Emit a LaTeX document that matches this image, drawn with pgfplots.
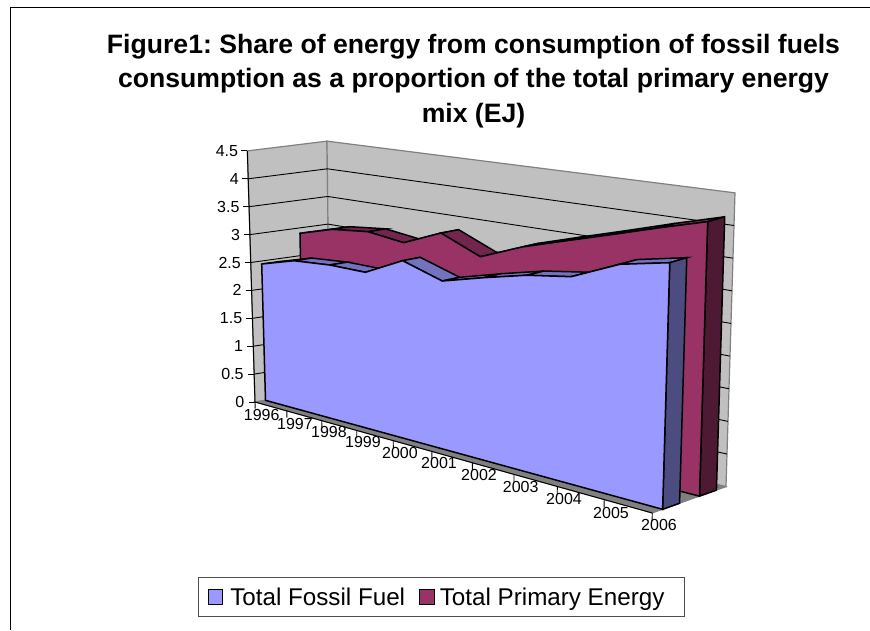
\documentclass[border=0pt]{standalone}
\usepackage{fontspec}
\setmainfont{Liberation Sans}
\usepackage{pgfplots}
\usepackage{pgfplotstable}
\pgfplotsset{compat=1.18}

\definecolor{wall}{HTML}{C0C0C0}
\definecolor{wallEdge}{HTML}{808080}
\definecolor{floorgrey}{HTML}{808080}
\definecolor{fossilFront}{HTML}{9999FF}
\definecolor{fossilTop}{HTML}{7272C0}
\definecolor{fossilSide}{HTML}{4C4C80}
\definecolor{primaryFront}{HTML}{993366}
\definecolor{primaryTop}{HTML}{73264D}
\definecolor{primarySide}{HTML}{4D1933}

% s: position along the year axis (0..1, foreshortened), values in EJ
\pgfplotstableread{
year s     fossil primary
1996 0     2.446  2.902
1997 0.080 2.621  3.075
1998 0.168 2.671  3.142
1999 0.256 2.668  3.058
2000 0.348 2.988  3.332
2001 0.445 2.776  3.046
2002 0.547 2.962  3.323
2003 0.652 3.131  3.535
2004 0.761 3.238  3.743
2005 0.879 3.564  3.967
2006 1     3.718  4.176
}\EnergyData

\pgfplotsset{
  /pgfplots/table/proj/.style={
    x expr={px(\thisrow{s},\thisrow{d},\thisrow{v})},
    y expr={py(\thisrow{s},\thisrow{d},\thisrow{v})}},
  fossil face/.style={fill=fossilFront,draw=black,line width=1.5pt},
  fossil facet/.style={forget plot,fill=fossilTop,draw=black,line width=1.5pt},
  fossil side/.style={forget plot,fill=fossilSide,draw=black,line width=1.5pt},
  primary face/.style={fill=primaryFront,draw=black,line width=1.5pt},
  primary facet/.style={forget plot,fill=primaryTop,draw=black,line width=1.5pt},
  primary side/.style={forget plot,fill=primarySide,draw=black,line width=1.5pt},
}

\newcommand\cell[3]{\pgfplotstablegetelem{#1}{#2}\of\EnergyData\let#3\pgfplotsretval}

% One ribbon of the 3-D area chart: top facets, end cap, then front face.
% #1 value column, #2 front depth, #3 back depth
\newcommand\drawseries[3]{%
  \pgfplotsforeachungrouped \i in {0,...,9}{%
    \pgfmathtruncatemacro\j{\i+1}%
    \cell{\i}{s}\sa \cell{\i}{#1}\va \cell{\j}{s}\sb \cell{\j}{#1}\vb
    \edef\cmd{\noexpand\addplot[#1 facet] table[proj,row sep=\noexpand\\]{s d v\noexpand\\
      \sa\space #2\space \va\noexpand\\ \sb\space #2\space \vb\noexpand\\
      \sb\space #3\space \vb\noexpand\\ \sa\space #3\space \va\noexpand\\} -- cycle;}%
    \cmd
  }%
  \cell{10}{#1}\vb
  \edef\cmd{\noexpand\addplot[#1 side] table[proj,row sep=\noexpand\\]{s d v\noexpand\\
    1 #2 \vb\noexpand\\ 1 #3 \vb\noexpand\\ 1 #3 0\noexpand\\ 1 #2 0\noexpand\\} -- cycle;}%
  \cmd
  \def\rows{}%
  \pgfplotsforeachungrouped \i in {0,...,10}{%
    \cell{\i}{s}\sa \cell{\i}{#1}\va
    \edef\rows{\unexpanded\expandafter{\rows}\sa\space #2\space \va\unexpanded{\\}}%
  }%
  \edef\cmd{\noexpand\addplot[#1 face] table[proj,row sep=\noexpand\\]{s d v\noexpand\\
    \unexpanded\expandafter{\rows}1 #2 0\noexpand\\ 0 #2 0\noexpand\\} -- cycle;}%
  \cmd
}

\begin{document}
\frenchspacing
\begin{tikzpicture}
\begin{axis}[
  scale only axis, width=870pt, height=630pt,
  xmin=0, xmax=870, ymin=0, ymax=630, y dir=reverse,
  hide axis,
  /pgf/declare function={
    px(\a,\b,\c)=(1-\b)*(255+397.3*\a+(-1.7+3.6*\a)*\c)+\b*(330+396*\a+(-0.67+2.67*\a)*\c);
    py(\a,\b,\c)=(1-\b)*(402+111*\a-(55.8+10.7*\a)*\c)+\b*(390+96.7*\a-(55.3+10*\a)*\c);
  },
  reverse legend,
  legend columns=2,
  legend cell align=left,
  legend style={
    at={(0.5075,0.0524)}, anchor=center,
    draw=wallEdge!60!black, line width=1pt,
    font=\fontsize{24.2}{27}\selectfont,
    inner xsep=9pt, inner ysep=8pt,
    /tikz/column 1/.style={column sep=5pt},
    /tikz/column 2/.style={column sep=12pt},
    /tikz/column 3/.style={column sep=3pt},
  },
  legend image code/.code={\draw[#1,line width=1.2pt] (0pt,-7.2pt) rectangle (14.5pt,7.2pt);},
]
% keeps the picture at its full size
\addplot[draw=none,forget plot] coordinates {(0,0) (870,630)};
% outer frame of the chart area
\addplot[black,line width=1pt,forget plot] coordinates {(870,7) (10,7) (10,630)};

% walls and floor
\addplot[forget plot,fill=wall,draw=wallEdge,line width=1.2pt] table[proj,row sep=\\]{s d v\\ 0 0 0\\ 0 1 0\\ 0 1 4.5\\ 0 0 4.5\\} -- cycle;
\addplot[forget plot,fill=wall,draw=wallEdge,line width=1.2pt] table[proj,row sep=\\]{s d v\\ 0 1 0\\ 1 1 0\\ 1 1 4.5\\ 0 1 4.5\\} -- cycle;
\addplot[forget plot,fill=floorgrey,draw=wallEdge,line width=1pt] table[proj,row sep=\\]{s d v\\ 0 0 0\\ 1 0 0\\ 1 1 0\\ 0 1 0\\} -- cycle;

% gridlines and value-axis ticks
\pgfplotsinvokeforeach{0.5,1,1.5,2,2.5,3,3.5,4}{
  \addplot[forget plot,black,line width=0.9pt] table[proj,row sep=\\]{s d v\\ 0 0 #1\\ 0 1 #1\\ 1 1 #1\\};
}
\pgfplotsinvokeforeach{0,0.5,1,1.5,2,2.5,3,3.5,4,4.5}{
  \addplot[forget plot,black,line width=0.9pt] table[x expr={px(0,0,#1)-\thisrow{o}},y expr={py(0,0,#1)},row sep=\\]{o\\ 6\\ 0\\};
}
% front edge of the floor and left edge of the side wall
\addplot[forget plot,black,line width=1pt] table[proj,row sep=\\]{s d v\\ 0 0 4.5\\ 0 0 0\\ 1 0 0\\};
% year-axis ticks
\pgfplotsforeachungrouped \i in {0,...,10}{%
  \cell{\i}{s}\sa
  \edef\cmd{\noexpand\addplot[forget plot,black,line width=0.9pt] table[proj,row sep=\noexpand\\]{s d v\noexpand\\ \sa\space 0 0\noexpand\\ \sa\space 0 -0.12\noexpand\\};}%
  \cmd
}

% rear ribbon first, front ribbon over it
\drawseries{primary}{0.64}{0.87}
\addlegendentry{Total Primary Energy\rule{9pt}{0pt}}
\drawseries{fossil}{0.14}{0.37}
\addlegendentry{Total Fossil Fuel}

% value-axis labels
\begin{scope}[every node/.style={anchor=east,inner sep=0pt,font=\fontsize{16}{18}\selectfont}]
\node at (axis cs:244.5,402.0) {0};
\node at (axis cs:243.8,374.1) {0.5};
\node at (axis cs:243.1,346.2) {1};
\node at (axis cs:242.4,318.3) {1.5};
\node at (axis cs:241.7,290.4) {2};
\node at (axis cs:241.0,262.5) {2.5};
\node at (axis cs:240.3,234.6) {3};
\node at (axis cs:239.6,206.7) {3.5};
\node at (axis cs:238.9,178.8) {4};
\node at (axis cs:238.2,150.9) {4.5};
\end{scope}
% year-axis labels
\begin{scope}[every node/.style={anchor=center,inner sep=0pt,font=\fontsize{16}{18}\selectfont}]
\node at (axis cs:261.7,415) {1996};
\node at (axis cs:295,424) {1997};
\node at (axis cs:329,432) {1998};
\node at (axis cs:363,441.7) {1999};
\node at (axis cs:400,452.7) {2000};
\node at (axis cs:439,463) {2001};
\node at (axis cs:479,475) {2002};
\node at (axis cs:520.7,486.7) {2003};
\node at (axis cs:564,498.7) {2004};
\node at (axis cs:611,512.7) {2005};
\node at (axis cs:659,525) {2006};
\end{scope}

\node[align=center,inner sep=0pt,font=\fontsize{26.6}{34.5}\selectfont\bfseries] at (axis cs:473.5,81) {Figure1: Share of energy from consumption of fossil fuels\\consumption as a proportion of the total primary energy\\mix (EJ)};
\end{axis}
\end{tikzpicture}
\end{document}
